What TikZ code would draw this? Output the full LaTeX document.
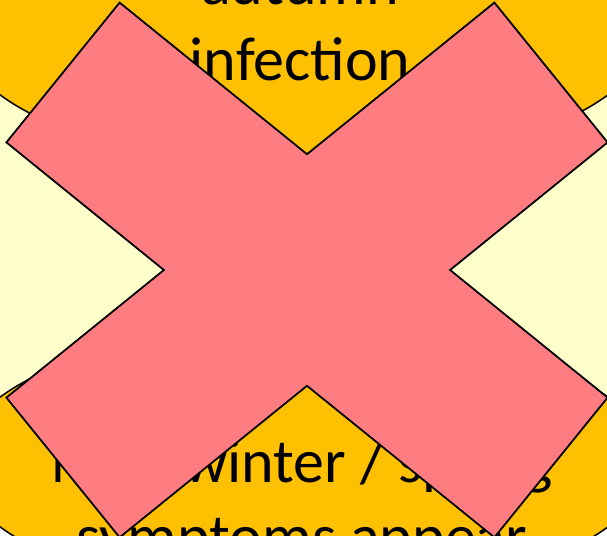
\documentclass[tikz,border=0pt]{standalone}
\usepackage{fontspec}
\setmainfont{Carlito}
\usetikzlibrary{positioning}
\definecolor{PhaseOrange}{HTML}{FFC000}
\definecolor{PhaseYellow}{HTML}{FFFFCC}
\definecolor{CrossPink}{HTML}{FF7C80}

\begin{document}
\begin{tikzpicture}[
    x=1pt, y=-1pt,
    orangephase/.style={draw=black, fill=PhaseOrange, line width=1.5pt},
    yellowphase/.style={draw=black, fill=PhaseYellow, line width=1.5pt},
    crossmark/.style={draw=black, fill=CrossPink, line width=1.8pt, line join=miter},
    phaselabel/.style={align=center, font=\fontsize{62}{75}\selectfont, inner sep=0pt},
  ]
    \useasboundingbox (0,0) rectangle (607,535);
    \clip (0,0) rectangle (607,535);
    % side phases
    \path[yellowphase] (-60,245) ellipse [x radius=240, y radius=200];
    \path[yellowphase] (674,245) ellipse [x radius=240, y radius=200];
    % top and bottom phases
    \path[orangephase] (304,30) ellipse [x radius=345, y radius=137];
    \path[orangephase] (304,462) ellipse [x radius=345, y radius=137];
    \node[phaselabel, anchor=base] (infect) at (300,80) {autumn\\infection};
    \node[phaselabel, anchor=base] (sympt) at (302,557) {Next winter / spring\\symptoms appear};
    % cross over everything
    \draw[crossmark] (119.6,2.6) -- (307,154.2) -- (494.4,2.6) -- (607.6,142.4)
      -- (450.1,270) -- (607.6,397.6) -- (494.4,537.4) -- (307,385.8)
      -- (119.6,537.4) -- (6.4,397.6) -- (163.9,270) -- (6.4,142.4) -- cycle;
\end{tikzpicture}
\end{document}
